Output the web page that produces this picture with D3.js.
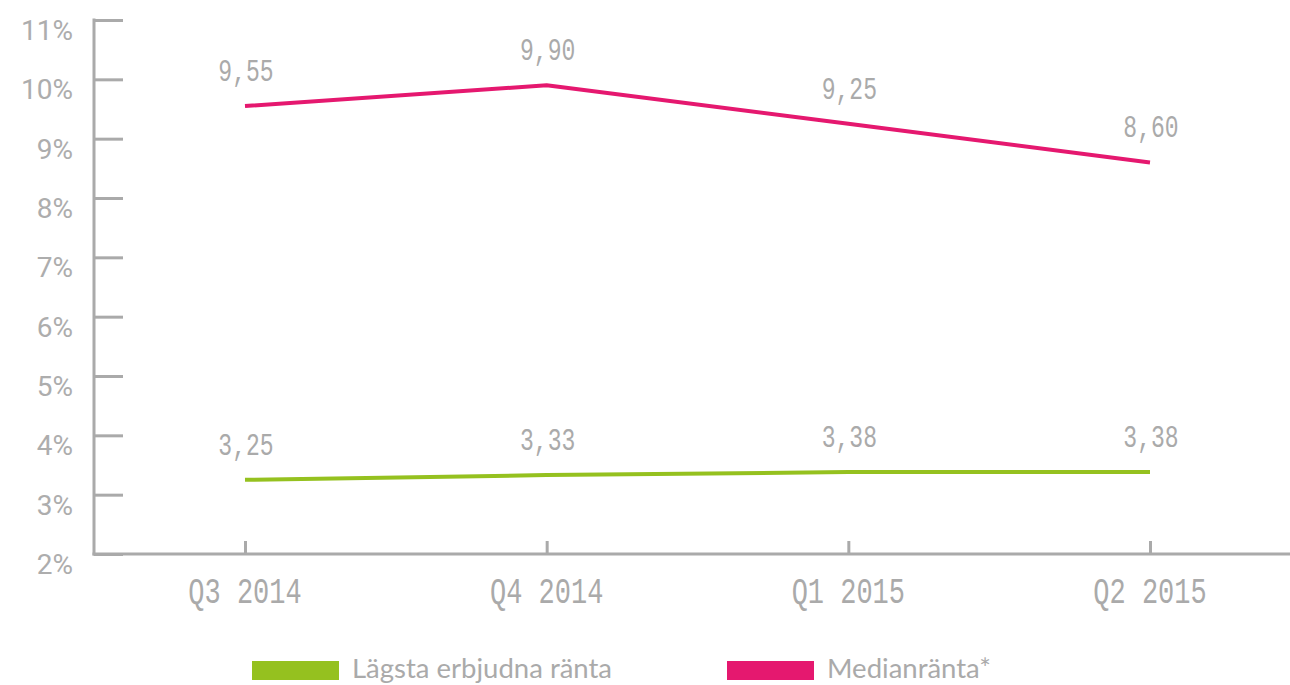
<!DOCTYPE html>
<html><head><meta charset="utf-8">
<script src="https://cdn.jsdelivr.net/npm/d3@7"></script>
<style>body{margin:0;background:#fff}svg{display:block}</style>
</head><body>
<svg id="c" width="1290" height="685"></svg>
<script>
const categories = ["Q3 2014", "Q4 2014", "Q1 2015", "Q2 2015"];
const lowestRate = [3.25, 3.33, 3.38, 3.38];
const medianRate = [9.55, 9.90, 9.25, 8.60];
const yTicks = [2, 3, 4, 5, 6, 7, 8, 9, 10, 11];
const seriesNames = ["Lägsta erbjudna ränta", "Medianränta*"];
const seriesColors = ["#95c11f", "#e5186f"];

const svg = d3.select("#c");
const grey = "#aaaaaa";
const x = d3.scalePoint().domain(categories).range([245, 1150]);
const y = d3.scaleLinear().domain([2, 11]).range([554, 20]);
const fmt = v => v.toFixed(2).replace(".", ",");

// y axis
const yAxis = svg.append("g").attr("transform", "translate(94,0)")
  .call(d3.axisRight(y).tickValues(yTicks).tickSize(29).tickFormat(""));
yAxis.select(".domain").remove();
yAxis.selectAll("line").attr("stroke", grey).attr("stroke-width", 3);
svg.append("line").attr("x1", 94).attr("x2", 94).attr("y1", y(11) - 1.5).attr("y2", y(2) + 1.5)
  .attr("stroke", grey).attr("stroke-width", 3);
svg.append("g").selectAll("text").data(yTicks).join("text")
  .attr("x", 73).attr("y", d => y(d) + 20)
  .attr("text-anchor", "end")
  .attr("font-family", "Roboto").attr("font-size", 28).attr("fill", "#adadad")
  .text(d => d + "%");

// x axis
const xAxis = svg.append("g").attr("transform", "translate(0,554)")
  .call(d3.axisTop(x).tickSize(13).tickFormat(""));
xAxis.select(".domain").remove();
xAxis.selectAll("line").attr("stroke", grey).attr("stroke-width", 3);
svg.append("line").attr("x1", 92.5).attr("x2", 1290).attr("y1", 554).attr("y2", 554)
  .attr("stroke", grey).attr("stroke-width", 3);
svg.append("g").selectAll("text").data(categories).join("text")
  .attr("transform", d => `translate(${x(d)},603) scale(0.75,1)`)
  .attr("text-anchor", "middle")
  .attr("font-family", "Liberation Mono").attr("font-size", 36).attr("fill", grey)
  .text(d => d);

// lines
const line = d3.line().x((d, i) => x(categories[i])).y(d => y(d));
[lowestRate, medianRate].forEach((vals, s) => {
  svg.append("path").datum(vals).attr("d", line)
    .attr("fill", "none").attr("stroke", seriesColors[s]).attr("stroke-width", 4)
    .attr("stroke-linejoin", "round");
  svg.append("g").selectAll("text").data(vals).join("text")
    .attr("transform", (d, i) => `translate(${x(categories[i]) + 1},${y(d) - 25}) scale(0.72,1)`)
    .attr("text-anchor", "middle")
    .attr("font-family", "Liberation Mono").attr("font-size", 32).attr("fill", grey)
    .text(d => fmt(d));
});

// legend
const legX = [252, 727];
seriesNames.forEach((n, s) => {
  svg.append("rect").attr("x", legX[s]).attr("y", 661).attr("width", 87).attr("height", 19)
    .attr("fill", seriesColors[s]);
  svg.append("text").attr("x", legX[s] + 100).attr("y", 678)
    .attr("font-family", "Lato").attr("font-size", 27.5).attr("fill", grey)
    .text(n);
});
</script>
</body></html>
